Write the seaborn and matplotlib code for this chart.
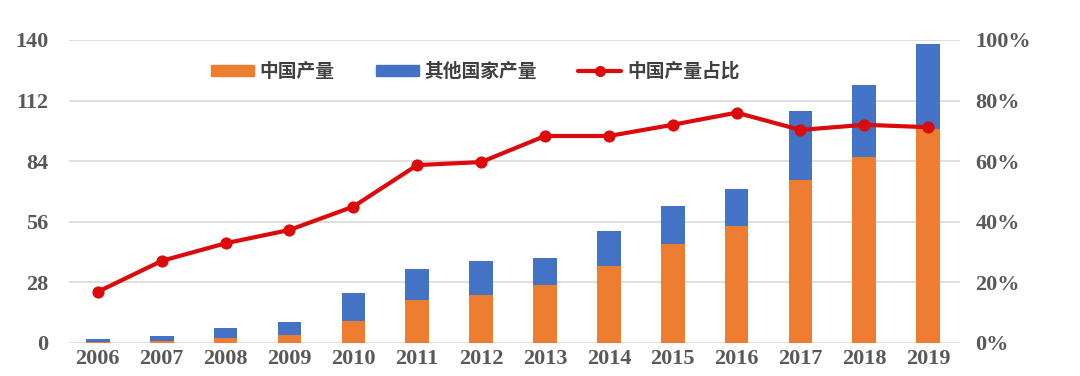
import matplotlib
matplotlib.use("Agg")
import matplotlib.pyplot as plt
import seaborn as sns
import numpy as np
import pandas as pd
from matplotlib.patches import Patch
from matplotlib.lines import Line2D
from matplotlib.ticker import FuncFormatter

years = ["2006", "2007", "2008", "2009", "2010", "2011", "2012",
         "2013", "2014", "2015", "2016", "2017", "2018", "2019"]
china_output = [0.3, 0.8, 2.2, 3.6, 10.3, 19.9, 22.2, 26.8, 35.4, 45.7, 54.0, 75.2, 86.0, 99.0]
total_output = [1.8, 3.2, 6.9, 9.9, 23.1, 34.3, 37.7, 39.4, 51.9, 63.4, 71.0, 107.3, 119.2, 138.3]
china_share = [0.169, 0.271, 0.329, 0.373, 0.450, 0.587, 0.597, 0.683, 0.683, 0.720, 0.760, 0.703, 0.720, 0.712]

left_ticks = [0, 28, 56, 84, 112, 140]
right_ticks = [0, 0.2, 0.4, 0.6, 0.8, 1.0]
legend_labels = ["中国产量", "其他国家产量", "中国产量占比"]

ORANGE = "#ED7D31"
BLUE = "#4472C4"
RED = "#DC0A0A"
GRID = "#D9D9D9"
TXT = "#595959"

sns.set_theme(style="white")
plt.rcParams["font.family"] = ["Noto Sans CJK SC", "DejaVu Sans"]

df = pd.DataFrame({"year": years, "china": china_output, "total": total_output, "share": china_share})

fig = plt.figure(figsize=(10.8, 3.76), dpi=100)
ax = fig.add_axes([0.064, 0.0878, 0.825, 0.806])

sns.barplot(data=df, x="year", y="total", color=BLUE, width=0.37, ax=ax, saturation=1,
            linewidth=0, zorder=2)
sns.barplot(data=df, x="year", y="china", color=ORANGE, width=0.37, ax=ax, saturation=1,
            linewidth=0, zorder=3)

ax.set_ylim(0, 140)
ax.set_xlim(-0.45, 13.5)
ax.set_yticks(left_ticks)
ax.yaxis.grid(True, color=GRID, linewidth=1.2, zorder=0)
ax.set_axisbelow(True)
ax.set_xlabel("")
ax.set_ylabel("")
for s in ax.spines.values():
    s.set_visible(False)
ax.tick_params(axis="both", length=0)
ax.tick_params(axis="y", pad=15)
ax.tick_params(axis="x", pad=4)
for lab in ax.get_yticklabels() + ax.get_xticklabels():
    lab.set_fontfamily("Liberation Serif")
    lab.set_fontweight("bold")
    lab.set_fontsize(16)
    lab.set_color(TXT)

ax2 = ax.twinx()
sns.lineplot(x=np.arange(len(years)), y=china_share, ax=ax2, color=RED, linewidth=3,
             marker="o", markersize=8, markeredgecolor=RED, zorder=5)
ax2.set_ylim(0, 1.0)
ax2.set_yticks(right_ticks)
ax2.yaxis.set_major_formatter(FuncFormatter(lambda v, p: f"{v*100:.0f}%"))
for s in ax2.spines.values():
    s.set_visible(False)
ax2.tick_params(axis="y", length=0, pad=11)
ax2.grid(False)
for lab in ax2.get_yticklabels():
    lab.set_fontfamily("Liberation Serif")
    lab.set_fontweight("bold")
    lab.set_fontsize(16)
    lab.set_color(TXT)

handles = [Patch(color=ORANGE), Patch(color=BLUE),
           Line2D([0], [0], color=RED, linewidth=3, marker="o", markersize=7)]
leg = fig.legend(handles, legend_labels, loc="center", bbox_to_anchor=(0.44, 0.81), ncol=3,
                 frameon=False, fontsize=13.5, handlelength=2.3, handleheight=0.5,
                 columnspacing=2.2, handletextpad=0.3)
for t in leg.get_texts():
    t.set_fontweight("bold")
    t.set_color("#404040")

fig.savefig("out.png", dpi=100, facecolor="white")
